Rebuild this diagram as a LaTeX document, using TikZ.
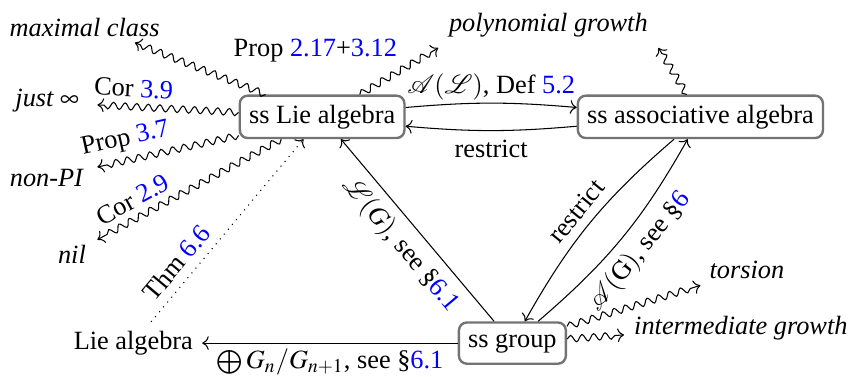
\documentclass[tikz,border=0pt]{standalone}
\usepackage{mathptmx}
\usepackage{mathrsfs}
\usepackage{fontspec}
\setmainfont{Liberation Serif}[
  ItalicFont={Liberation Serif Italic},
  BoldFont={Liberation Serif Bold}]
\usepackage{xcolor}
\usetikzlibrary{decorations.pathmorphing,arrows.meta}

\newcommand{\lnk}[1]{\textcolor{blue}{#1}}

\begin{document}
\begin{tikzpicture}[
  box/.style={draw=black!55, line width=.9pt, rounded corners=3pt, inner sep=3.5pt, minimum height=.55cm},
  wavy/.style={->, decorate, decoration={snake, amplitude=1.3pt, segment length=4.4pt, post length=2pt}},
  prop/.style={font=\itshape}]
\useasboundingbox (0,0) rectangle (11.36,5.02);

% main objects
\node[box] (lie) at (4.30,3.46) {ss Lie algebra};
\node[box] (assoc) at (9.35,3.46) {ss associative algebra};
\node[box] (group) at (6.84,0.44) {ss group};
\node (liealg) at (1.78,0.44) {Lie algebra};

% properties
\node[prop] (maxclass) at (1.13,4.65) {maximal class};
\node[prop] (justinf) at (0.63,3.68) {just $\infty$};
\node[prop] (nonpi) at (0.62,2.64) {non-PI};
\node[prop] (nil) at (0.96,1.62) {nil};
\node[prop] (poly) at (7.32,4.69) {polynomial growth};
\node[prop] (torsion) at (9.97,1.42) {torsion};
\node[prop] (interm) at (9.89,0.64) {intermediate growth};

\coordinate (tmax) at (1.80,4.45);
\coordinate (tinf) at (1.30,3.62);
\coordinate (tpi) at (1.30,2.79);
\coordinate (tnil) at (1.30,1.82);
\coordinate (tpolya) at (5.85,4.38);
\coordinate (tpolyb) at (8.79,4.38);
\coordinate (ttor) at (9.35,1.21);
\coordinate (tint) at (8.33,0.55);

% implications
\draw[wavy] (lie) -- (tmax);
\draw[wavy] (lie) -- (tinf) node[pos=.75, above, sloped] {Cor \lnk{3.9}};
\draw[wavy] (lie) -- (tpi) node[pos=.77, above, sloped] {Prop \lnk{3.7}};
\draw[wavy] (lie) -- (tnil) node[pos=.76, above, sloped] {Cor \lnk{2.9}};
\draw[wavy] (lie) -- (tpolya);
\draw[wavy] (assoc) -- (tpolyb);
\draw[wavy] (group) -- (ttor);
\draw[wavy] (group) -- (tint);
\node (propref) at (4.21,4.35) {Prop \lnk{2.17}+\lnk{3.12}};

% constructions
\draw[->] ([yshift=1.25mm]lie.east) to[bend left=5]
  node[above, inner sep=1pt] {$\mathscr{A}(\mathscr{L})$, Def \lnk{5.2}} ([yshift=1.25mm]assoc.west);
\draw[->] ([yshift=-1.25mm]assoc.west) to[bend left=5]
  node[below] {restrict} ([yshift=-1.25mm]lie.east);
\draw[->] (group) -- (lie) node[midway, below, sloped] {$\mathscr{L}(G)$, see \S\lnk{6.1}};
\draw[->] (assoc) to[bend right=10] node[above, sloped] {restrict} (group);
\draw[->] (group) to[bend right=10] node[below, sloped] {$\mathscr{A}(\mathrm{G})$, see \S\lnk{6}} (assoc);
\draw[->] (group) -- (liealg) node[midway, below, inner sep=2pt] {$\bigoplus G_n/G_{n+1}$, see \S\lnk{6.1}};
\draw[->, dotted] (liealg) -- (lie) node[pos=.26, above, sloped] {Thm \lnk{6.6}};
\end{tikzpicture}
\end{document}
